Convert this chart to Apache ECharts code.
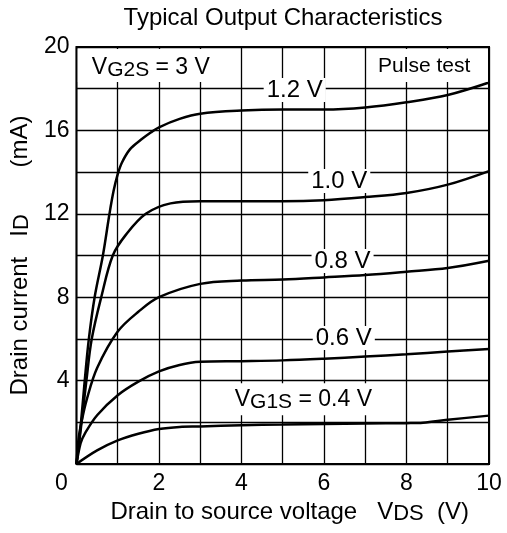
<!DOCTYPE html>
<html>
<head>
<meta charset="utf-8">
<title>Typical Output Characteristics</title>
<script src="https://cdn.jsdelivr.net/npm/echarts@6/dist/echarts.min.js"></script>
<style>
  html, body { margin: 0; padding: 0; background: #fff; }
  #main { width: 507px; height: 533px; }
</style>
</head>
<body>
<div id="main"></div>
<script>
// 曲线数据 [VDS (V), ID (mA)]
var curve12 = [[0, 0], [0.1, 1.8], [0.2, 4], [0.3, 6], [0.44, 8], [0.64, 10], [0.8, 12], [0.9, 13.1], [1.0, 13.9], [1.1, 14.45], [1.3, 15.1], [1.56, 15.55], [1.8, 15.9], [2, 16.15], [2.5, 16.55], [3, 16.8], [4, 16.95], [5, 17.0], [6, 17.0], [7, 17.1], [8, 17.35], [9, 17.7], [10, 18.3]];
var curve10 = [[0, 0], [0.1, 1.6], [0.24, 4], [0.37, 6], [0.6, 8], [0.88, 10], [1.2, 11], [1.68, 12], [2.28, 12.5], [3, 12.6], [4, 12.6], [5, 12.6], [6, 12.65], [7, 12.8], [8, 13.0], [9, 13.4], [10, 14.05]];
var curve08 = [[0, 0], [0.05, 1.2], [0.12, 2], [0.25, 3.1], [0.5, 4.6], [1, 6.35], [1.5, 7.3], [2, 8.0], [3, 8.64], [4, 8.8], [5, 8.85], [6, 8.95], [7, 9.06], [8, 9.22], [9, 9.4], [10, 9.75]];
var curve06 = [[0, 0], [0.1, 1.0], [0.2, 1.45], [0.5, 2.34], [1, 3.3], [1.5, 3.95], [2, 4.44], [2.5, 4.75], [3, 4.9], [4, 4.93], [5, 4.97], [6, 5.05], [7, 5.15], [8, 5.26], [9, 5.39], [10, 5.52]];
var curve04 = [[0, 0], [0.5, 0.65], [1, 1.13], [1.5, 1.45], [2, 1.68], [2.5, 1.78], [3, 1.8], [4, 1.86], [5, 1.89], [6, 1.92], [7, 1.94], [8, 1.96], [8.4, 1.98], [9, 2.12], [10, 2.32]];

// 曲线标注 [文字, VDS, ID]
var curveLabels = [
  ['1.2 V', 5.29, 17.94],
  ['1.0 V', 6.37, 13.57],
  ['0.8 V', 6.45, 9.74],
  ['0.6 V', 6.48, 6.04]
];
var xTicks = [0, 2, 4, 6, 8, 10];
var yTicks = [4, 8, 12, 16, 20];

var FONT = 'Liberation Sans';
var chart = echarts.init(document.getElementById('main'));

function makeSeries(data, marks) {
  var s = {
    type: 'line',
    data: data,
    smooth: 0.35,
    showSymbol: false,
    silent: true,
    lineStyle: { color: '#000', width: 2.5 }
  };
  if (marks) {
    s.markPoint = { silent: true, animation: false, data: marks };
  }
  return s;
}

// 带下标的文字
var subRich = {
  m: { fontSize: 23, lineHeight: 26, fontFamily: FONT, color: '#000' },
  s: { fontSize: 21, lineHeight: 14, verticalAlign: 'bottom', fontFamily: FONT, color: '#000' }
};
var nameRich = {
  m: { fontSize: 24, lineHeight: 26, fontFamily: FONT, color: '#000' },
  s: { fontSize: 22, lineHeight: 14, verticalAlign: 'bottom', fontFamily: FONT, color: '#000' }
};
var marks = [];
for (var i = 0; i < curveLabels.length; i++) {
  marks.push({
    coord: [curveLabels[i][1], curveLabels[i][2]],
    symbol: 'circle',
    symbolSize: 0,
    label: {
      show: true,
      position: 'inside',
      formatter: curveLabels[i][0],
      fontSize: 24,
      fontFamily: FONT,
      color: '#000',
      backgroundColor: '#fff',
      padding: [0, 3, 0, 3]
    }
  });
}
marks.push({
  coord: [5.5, 3.1],
  symbol: 'circle',
  symbolSize: 0,
  label: {
    show: true,
    position: 'inside',
    formatter: '{m|V}{s|G1S}{m| = 0.4 V}',
    rich: subRich,
    backgroundColor: '#fff',
    padding: [3, 2, 3, 2]
  }
});
// 左上角 / 右上角 白框
marks.push({
  coord: [1.73, 19.11],
  symbol: 'rect',
  symbolSize: [140, 33],
  itemStyle: { color: '#fff' },
  label: {
    show: true,
    position: 'inside',
    offset: [3, 2],
    formatter: '{m|V}{s|G2S}{m| = 3 V}',
    rich: subRich
  }
});
marks.push({
  coord: [8.55, 19.11],
  symbol: 'rect',
  symbolSize: [117, 33],
  itemStyle: { color: '#fff' },
  label: {
    show: true,
    position: 'inside',
    offset: [-5, 1],
    formatter: 'Pulse test',
    fontSize: 21,
    fontFamily: FONT,
    color: '#000'
  }
});

var option = {
  animation: false,
  title: {
    text: 'Typical Output Characteristics',
    left: 278,
    top: 1,
    textAlign: 'center',
    textStyle: { fontSize: 24, fontWeight: 'normal', fontFamily: FONT, color: '#000' }
  },
  grid: {
    left: 73, right: 18, top: 47, bottom: 69,
    show: true,
    borderColor: '#000',
    borderWidth: 2
  },
  xAxis: {
    type: 'value',
    min: 0, max: 10, interval: 1,
    name: 'Drain to source voltage   {m|V}{s|DS}  {m|(V)}',
    nameLocation: 'middle',
    nameGap: 32,
    nameTextStyle: {
      fontSize: 24, fontFamily: FONT, color: '#000',
      padding: [0, 0, 0, 14],
      rich: nameRich
    },
    axisLine: { show: false },
    axisTick: { show: false },
    splitLine: { show: true, lineStyle: { color: '#000', width: 1.3 } },
    axisLabel: {
      margin: 8,
      fontSize: 23, fontFamily: FONT, color: '#000',
      formatter: function (v) {
        if (xTicks.indexOf(v) < 0) return '';
        return v === 0 ? '{z|0}' : String(v);
      },
      rich: { z: { fontSize: 23, fontFamily: FONT, color: '#000', padding: [0, 30, 0, 0] } }
    }
  },
  yAxis: {
    type: 'value',
    min: 0, max: 20, interval: 2,
    name: 'Drain current   {m|I}{s|D}       (mA)',
    nameLocation: 'middle',
    nameRotate: 90,
    nameGap: 35,
    nameTextStyle: {
      fontSize: 24, fontFamily: FONT, color: '#000',
      rich: nameRich
    },
    axisLine: { show: false },
    axisTick: { show: false },
    splitLine: { show: true, lineStyle: { color: '#000', width: 1.3 } },
    axisLabel: {
      margin: 7,
      fontSize: 23, fontFamily: FONT, color: '#000',
      formatter: function (v) {
        return yTicks.indexOf(v) < 0 ? '' : String(v);
      }
    }
  },
  series: [
    makeSeries(curve12, marks),
    makeSeries(curve10),
    makeSeries(curve08),
    makeSeries(curve06),
    makeSeries(curve04)
  ]
};
chart.setOption(option);
</script>
</body>
</html>
